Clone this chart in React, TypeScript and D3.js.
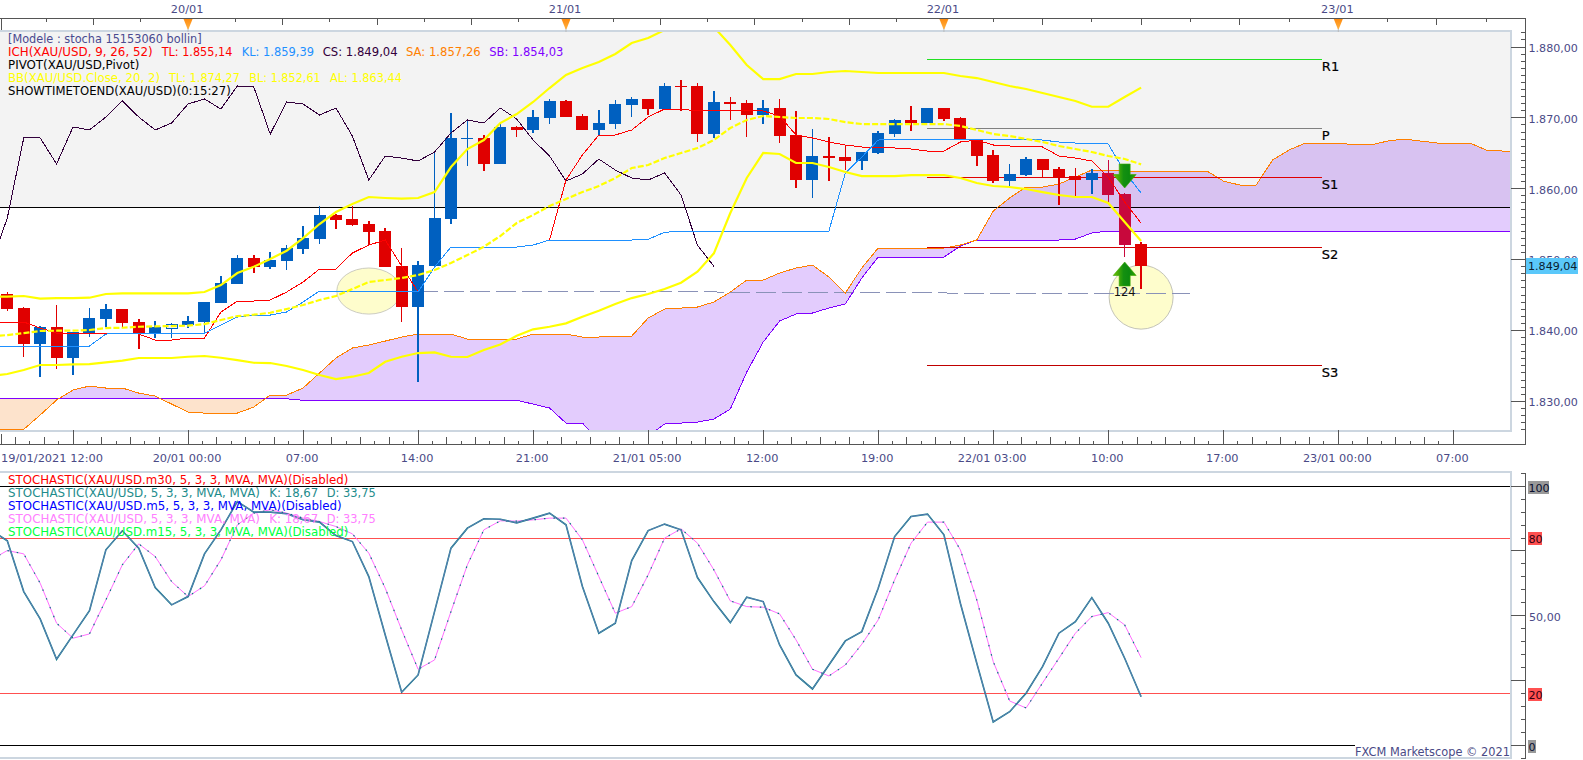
import React from "react";
import * as d3 from "d3";

// Candles (bars 0..69)
const opens = [1845.14,1843.16,1838.08,1840.48,1836.11,1839.63,1841.61,1843.02,1841.19,1839.63,1840.34,1840.76,1841.19,1843.87,1846.55,1850.22,1848.95,1849.80,1851.49,1852.90,1856.29,1855.72,1855.02,1854.03,1849.09,1843.30,1849.09,1855.72,1867.10,1867.16,1863.49,1868.71,1868.29,1869.98,1872.38,1870.26,1868.29,1869.13,1871.81,1872.66,1871.25,1874.50,1874.50,1867.72,1872.24,1872.10,1870.40,1871.39,1867.58,1861.23,1864.62,1864.47,1863.91,1865.04,1867.72,1869.70,1869.27,1871.39,1869.98,1866.87,1864.76,1861.09,1861.93,1864.19,1862.78,1861.79,1861.23,1862.22,1859.25,1852.20];
const highs = [1845.42,1843.30,1840.62,1843.59,1839.78,1843.16,1843.73,1843.02,1841.61,1841.33,1841.05,1842.03,1844.01,1847.68,1850.64,1850.64,1851.07,1852.05,1854.74,1857.56,1856.43,1857.56,1855.44,1854.45,1851.63,1849.80,1865.18,1870.68,1869.70,1867.58,1869.41,1868.85,1871.11,1872.66,1872.52,1870.54,1871.11,1872.52,1872.94,1872.66,1874.92,1875.34,1874.92,1873.79,1872.94,1872.52,1872.52,1872.66,1870.97,1868.43,1867.30,1866.17,1865.18,1868.14,1869.84,1871.67,1871.39,1871.39,1870.12,1866.87,1865.46,1863.49,1864.47,1864.19,1863.06,1862.92,1862.78,1864.05,1859.39,1852.48];
const lows = [1842.74,1836.25,1833.42,1834.55,1833.71,1839.07,1840.48,1840.48,1837.38,1838.93,1838.93,1840.34,1839.78,1843.87,1846.55,1848.10,1848.67,1848.53,1850.78,1852.20,1854.31,1854.74,1852.05,1848.95,1841.19,1832.72,1849.09,1855.02,1863.20,1862.50,1863.49,1867.30,1867.86,1869.13,1870.12,1868.29,1867.44,1868.43,1870.12,1870.40,1871.25,1870.97,1866.59,1867.16,1869.70,1867.30,1869.13,1866.45,1860.10,1858.69,1861.09,1862.64,1862.64,1864.90,1867.30,1868.14,1869.27,1869.56,1866.87,1863.20,1860.80,1860.38,1861.79,1861.51,1857.70,1858.97,1859.25,1858.12,1850.36,1845.84];
const closes = [1843.02,1838.08,1840.48,1836.11,1839.78,1841.75,1843.02,1841.05,1839.63,1840.48,1840.83,1841.33,1844.01,1846.69,1850.22,1848.95,1849.94,1851.63,1853.04,1856.29,1855.58,1854.88,1853.89,1848.95,1843.30,1849.23,1855.87,1867.16,1867.16,1863.49,1868.71,1868.29,1870.12,1872.38,1870.12,1868.29,1869.27,1871.96,1872.66,1871.25,1874.50,1874.36,1867.72,1872.24,1871.96,1870.40,1871.39,1867.44,1861.23,1864.62,1864.33,1863.91,1865.18,1867.86,1869.70,1869.27,1871.39,1869.84,1866.87,1864.62,1861.09,1862.08,1864.19,1862.64,1861.51,1861.23,1862.22,1859.11,1852.05,1849.04];
const crimsonBars = [67, 68];
const hollowBars = [10];

// Line series start at bar -1
const tenkan = [1841.19,1841.19,1841.19,1840.34,1839.63,1839.63,1839.63,1839.63,1839.63,1839.49,1838.65,1838.65,1838.93,1838.93,1842.6,1844.15,1844.15,1844.29,1845.42,1846.83,1848.67,1848.67,1850.93,1852.05,1852.76,1849.09,1845.42,1848.95,1851.77,1851.77,1851.77,1851.77,1851.77,1852.05,1852.76,1861.23,1864.76,1867.58,1867.58,1868.29,1870.12,1871.25,1871.25,1870.97,1870.97,1870.97,1870.97,1870.97,1870.26,1867.58,1867.16,1866.59,1866.17,1865.89,1865.75,1865.75,1865.6,1865.32,1865.32,1866.59,1866.87,1866.17,1866.03,1865.96,1865.89,1864.62,1864.33,1863.91,1861.65,1858.12,1855.14];
const kijun = [1837.8,1837.8,1837.8,1837.8,1837.8,1837.8,1837.8,1839.49,1839.63,1839.63,1839.63,1839.63,1839.63,1839.63,1840.76,1841.89,1842.17,1842.17,1842.6,1844.01,1845.56,1845.56,1845.56,1845.56,1845.56,1845.56,1845.42,1848.95,1851.77,1851.77,1851.77,1851.77,1851.77,1852.05,1852.76,1852.76,1852.76,1852.76,1852.76,1852.76,1852.86,1853.85,1853.99,1853.99,1853.99,1853.99,1853.99,1853.99,1853.99,1853.99,1853.99,1854.03,1862.22,1864.47,1866.87,1866.96,1866.96,1866.96,1866.96,1866.96,1866.96,1866.96,1866.96,1866.96,1866.87,1866.59,1866.45,1866.45,1866.31,1862.36,1859.39];
const senkouA = [1826.08,1826.08,1826.04,1828.06,1830.18,1831.59,1832.15,1831.87,1831.87,1831.16,1830.74,1829.61,1828.48,1828.34,1828.34,1828.34,1829.19,1830.88,1830.88,1831.87,1833.99,1836.11,1837.52,1837.94,1838.50,1839.07,1839.49,1839.49,1839.49,1838.79,1838.79,1838.79,1838.79,1839.49,1839.49,1839.49,1839.07,1839.07,1839.21,1839.21,1841.75,1843.02,1843.16,1843.30,1844.01,1845.42,1847.11,1847.11,1848.10,1848.81,1849.23,1847.54,1845.28,1848.81,1851.63,1851.63,1851.63,1851.63,1851.63,1852.05,1852.76,1856.85,1858.69,1860.24,1860.24,1860.66,1861.65,1862.64,1862.64,1862.50,1862.50,1862.50,1862.50,1862.50,1862.50,1861.09,1860.52,1860.52,1864.05,1865.46,1866.45,1866.45,1866.45,1866.17,1866.17,1866.73,1867.02,1866.73,1866.45,1866.45,1866.45,1865.46,1865.32,1865.32];
const senkouB = [1830.36,1830.36,1830.36,1830.36,1830.36,1830.36,1830.36,1830.36,1830.36,1830.36,1830.36,1830.36,1830.36,1830.36,1830.36,1830.36,1830.36,1830.36,1830.36,1830.14,1830.14,1830.14,1830.14,1830.14,1830.14,1830.14,1830.14,1830.14,1830.14,1830.14,1830.14,1830.14,1830.14,1829.61,1829.05,1826.93,1826.93,1824.53,1824.25,1824.25,1825.10,1826.79,1826.93,1827.07,1827.49,1828.91,1834.13,1838.36,1841.33,1842.32,1842.46,1843.16,1843.73,1847.40,1850.36,1850.36,1850.36,1850.36,1850.36,1851.91,1852.76,1852.76,1852.76,1852.76,1852.76,1852.76,1852.90,1853.75,1854.03,1854.03,1854.03,1854.03,1854.03,1854.03,1854.03,1854.03,1854.03,1854.03,1854.03,1854.03,1854.03,1854.03,1854.03,1854.03,1854.03,1854.03,1854.03,1854.03,1854.03,1854.03,1854.03,1854.03,1854.03,1854.03];
const bbUpper = [1844.76,1844.76,1844.86,1844.48,1844.57,1844.57,1844.62,1845.14,1845.24,1845.24,1845.24,1845.24,1845.24,1845.42,1846.41,1848.10,1848.99,1850.08,1851.25,1853.04,1855.02,1856.71,1857.84,1858.83,1858.69,1858.59,1858.69,1859.53,1863.06,1865.60,1866.87,1869.27,1870.54,1872.24,1874.21,1876.05,1877.04,1877.88,1879.01,1880.56,1881.27,1882.40,1883.81,1884.38,1882.82,1880.28,1877.46,1875.48,1875.48,1876.19,1876.19,1876.47,1876.61,1876.47,1876.33,1876.33,1876.33,1876.33,1876.33,1875.91,1875.62,1875.06,1874.50,1874.07,1873.51,1872.94,1872.38,1871.57,1871.57,1872.94,1874.27];
const bbMiddle = [1839.14,1839.35,1839.63,1839.92,1839.96,1839.96,1840.06,1840.34,1840.38,1840.52,1840.58,1840.62,1840.67,1840.90,1841.47,1842.03,1842.22,1842.50,1843.02,1843.59,1844.29,1844.86,1845.84,1846.83,1847.11,1847.40,1847.82,1848.53,1849.51,1850.64,1851.81,1853.32,1855.16,1856.29,1857.56,1858.55,1859.53,1860.38,1861.51,1862.92,1863.35,1864.33,1865.04,1865.75,1866.87,1868.57,1869.70,1870.26,1870.12,1869.98,1869.98,1869.84,1869.41,1869.13,1869.13,1869.13,1869.13,1869.13,1869.13,1868.85,1868.29,1867.72,1867.44,1867.02,1866.59,1866.03,1865.60,1865.18,1864.62,1864.19,1863.44];
const bbLower = [1833.57,1833.85,1834.41,1835.12,1835.12,1835.22,1835.26,1835.50,1835.73,1836.11,1836.11,1836.11,1836.29,1836.39,1836.15,1835.82,1835.44,1835.40,1834.98,1834.41,1833.71,1833.14,1833.47,1833.99,1835.58,1836.29,1836.81,1836.91,1836.29,1836.25,1837.23,1838.01,1839.25,1840.16,1840.52,1841.00,1841.93,1842.78,1843.73,1844.57,1845.14,1845.84,1846.73,1848.29,1850.88,1856.57,1861.51,1865.04,1864.90,1863.63,1863.63,1863.06,1862.36,1861.79,1861.79,1861.79,1861.93,1861.93,1861.93,1861.51,1860.80,1860.38,1860.24,1859.96,1859.53,1859.11,1858.83,1858.83,1857.98,1855.30,1852.61];
const stochK = [83.17,78.92,59.30,48.74,33.15,42.55,51.95,75.44,82.79,76.09,60.85,54.16,57.37,73.89,83.17,94.12,90.02,90.02,89.36,87.04,86.15,80.97,78.65,65.11,42.55,20.39,27.08,51.57,76.09,83.83,87.43,87.24,85.88,87.70,89.63,85.11,61.24,43.21,47.08,71.30,82.90,85.38,83.17,64.72,55.44,47.31,57.14,55.44,38.69,27.08,21.66,30.95,40.23,43.83,60.62,80.58,88.32,89.25,81.24,54.82,31.61,8.90,12.88,20.00,30.29,43.21,47.70,56.98,47.08,33.54,18.67];
const stochD = [71.57,75.16,73.89,62.55,47.08,41.28,42.94,56.09,69.63,77.76,72.84,63.17,57.37,61.51,71.57,85.11,89.63,90.91,89.63,87.70,86.38,84.45,81.63,74.16,60.62,44.49,29.28,32.88,51.57,69.63,83.17,86.65,86.54,87.04,87.70,87.70,79.30,65.11,50.95,53.50,65.76,79.96,83.56,78.03,67.70,55.71,53.50,53.27,50.68,40.62,29.28,26.69,30.95,38.96,48.36,63.83,78.03,86.15,86.15,75.44,56.09,32.22,17.02,14.31,23.98,33.54,43.21,49.63,51.18,46.42,33.75];

const pivotLevels = [
  { name: "R1", price: 1878.26, color: "#22e022" },
  { name: "P", price: 1868.52, color: "#808080" },
  { name: "S1", price: 1861.6, color: "#e00000" },
  { name: "S2", price: 1851.73, color: "#d00000" },
  { name: "S3", price: 1835.07, color: "#c00000" },
];
const pivotFrom = 56;
const pivotTo = 80;
const closeRef = 1857.35;
const dashedBars = [25, 43, 44, 57, 58, 72];
const dashedPrices = [1845.45, 1845.45, 1845.31, 1845.31, 1845.17, 1845.17];
const circles = [
  { bar: 22, price: 1845.56 },
  { bar: 69, price: 1844.7 },
];

const topDays = ["20/01", "21/01", "22/01", "23/01"];
const topDayBars = [11, 34, 57, 81];
const bottomLabels = ["19/01/2021 12:00", "20/01 00:00", "07:00", "14:00", "21:00", "21/01 05:00", "12:00", "19:00", "22/01 03:00", "10:00", "17:00", "23/01 00:00", "07:00"];
const priceTicks = [1880, 1870, 1860, 1850, 1840, 1830];

const W = 1583, H = 760;
const PR = 1510, AX = 1525.7;
const PT = 32, PB = 431;
const LT = 473, LB = 757;
const INK = "#4a4a86";
const FONT = "'DejaVu Sans', Verdana, sans-serif";

const xBar = d3.scaleLinear().domain([0, 81]).range([7.3, 1338.3]);
const yP = d3.scaleLinear().domain([1880, 1830]).range([47, 401.3]);
const yS = d3.scaleLinear().domain([100, 0]).range([486.3, 745]);

const pts = (a: number[]) => a.map((v, k) => [k - 1, v] as [number, number]);
const priceLine = d3.line<[number, number]>().x((d) => xBar(d[0])).y((d) => yP(d[1]));
const stochLine = d3.line<[number, number]>().x((d) => xBar(d[0])).y((d) => yS(d[1]));
const chikou = closes.slice(25);

const cloudIdx = d3.range(senkouA.length);
const cloudX = (k: number) => xBar(k - 1);
const cloudArea = d3.area<number>().x(cloudX).y0((k) => yP(senkouB[k])).y1((k) => yP(senkouA[k]))(cloudIdx) as string;
const aboveB = d3.area<number>().x(cloudX).y0(0).y1((k) => yP(senkouB[k]))(cloudIdx) as string;
const belowB = d3.area<number>().x(cloudX).y0((k) => yP(senkouB[k])).y1(PB)(cloudIdx) as string;

const tickStep = (xBar(18) - xBar(11)) / 8;

// bottom axis ticks: a tick every 1/8 of a label interval
const bottomTicks = d3.range(-5, 97).map((k) => ({ x: xBar(4) + k * tickStep, k })).filter((t) => t.x >= 1 && t.x <= PR);
// top axis ticks: eight per day segment (bars per day vary with the daily break)
const topTicks: { x: number; major: boolean }[] = [];
const dayBars = [-12, ...topDayBars, 105];
for (let d = 0; d < dayBars.length - 1; d++) {
  for (let q = 0; q < 8; q++) {
    const span = dayBars[d + 1] - dayBars[d];
    const bar = dayBars[d] + (span * q) / 8;
    const x = xBar(bar);
    if (x >= 0 && x <= AX && !(q === 0 && d > 0)) topTicks.push({ x, major: q % 2 === 0 });
  }
}
const segments = (t: string, color: string, x: number, w: number) => ({ t, color, x, w });
const legendTop = [
  [segments("[Modele : stocha 15153060 bollin]", "#4a4a90", 8, 193.7)],
  [
    segments("ICH(XAU/USD, 9, 26, 52)", "#ff0000", 8, 144.7),
    segments("TL: 1.855,14", "#ff0000", 161.7, 70.6),
    segments("KL: 1.859,39", "#1e90ff", 241.7, 72.3),
    segments("CS: 1.849,04", "#32003c", 322.7, 75),
    segments("SA: 1.857,26", "#ff8000", 406, 74.7),
    segments("SB: 1.854,03", "#8000ff", 489.3, 74),
  ],
  [segments("PIVOT(XAU/USD,Pivot)", "#000000", 8, 131.3)],
  [
    segments("BB(XAU/USD.Close, 20, 2)", "#ffff00", 8, 152),
    segments("TL: 1.874,27", "#ffff00", 169, 71),
    segments("BL: 1.852,61", "#ffff00", 249.3, 71.4),
    segments("AL: 1.863,44", "#ffff00", 330, 72),
  ],
  [segments("SHOWTIMETOEND(XAU/USD)(0:15:27)", "#000000", 8, 222.7)],
];
const legendBottom = [
  [segments("STOCHASTIC(XAU/USD.m30, 5, 3, 3, MVA, MVA)(Disabled)", "#ff0000", 8, 340.3)],
  [
    segments("STOCHASTIC(XAU/USD, 5, 3, 3, MVA, MVA)", "#1e8c8c", 8, 252),
    segments("K: 18,67", "#1e8c8c", 269.3, 49),
    segments("D: 33,75", "#1e8c8c", 326.7, 49),
  ],
  [segments("STOCHASTIC(XAU/USD.m5, 5, 3, 3, MVA, MVA)(Disabled)", "#0000ff", 8, 333.7)],
  [
    segments("STOCHASTIC(XAU/USD, 5, 3, 3, MVA, MVA)", "#ff80ff", 8, 252),
    segments("K: 18,67", "#ff80ff", 269.3, 49),
    segments("D: 33,75", "#ff80ff", 326.7, 49),
  ],
  [segments("STOCHASTIC(XAU/USD.m15, 5, 3, 3, MVA, MVA)(Disabled)", "#00ff40", 8, 340.3)],
];

const Legend = ({ rows, y0, dy }: { rows: ReturnType<typeof segments>[][]; y0: number; dy: number }) => (
  <g>
    {rows.flatMap((row, r) =>
      row.map((s, k) => (
        <text key={r + "-" + k} x={s.x} y={y0 + r * dy} fill={s.color} fontSize={12} textLength={s.w} lengthAdjust="spacingAndGlyphs">
          {s.t}
        </text>
      ))
    )}
  </g>
);

const arrowPath = (dir: number) =>
  d3.line()([
    [0, 0],
    [11.5, 13.5 * dir],
    [5.5, 13.5 * dir],
    [5.5, 24 * dir],
    [-5.5, 24 * dir],
    [-5.5, 13.5 * dir],
    [-11.5, 13.5 * dir],
  ]) + "Z";

export default function App() {
  const minorPrice = d3.range(1826, 1883).filter((p) => p % 10 !== 0);
  const stochMinor = d3.range(0, 105, 5);
  const stochMajor = [100, 75, 50, 25, 0];
  return (
    <svg width={W} height={H} viewBox={`0 0 ${W} ${H}`} style={{ position: "absolute", left: 0, top: 0, background: "#fff" }} fontFamily={FONT}>
      <defs>
        <clipPath id="plot"><rect x={0} y={PT} width={PR} height={PB - PT} /></clipPath>
        <clipPath id="lower"><rect x={0} y={LT} width={PR} height={LB - LT} /></clipPath>
        <clipPath id="aboveB"><path d={aboveB} /></clipPath>
        <clipPath id="belowB"><path d={belowB} /></clipPath>
        <linearGradient id="arrowFill" x1="0" x2="1" y1="0" y2="0">
          <stop offset="0" stopColor="#74c400" />
          <stop offset="0.45" stopColor="#149010" />
          <stop offset="0.7" stopColor="#0c8a10" />
          <stop offset="1" stopColor="#3aa800" />
        </linearGradient>
        <linearGradient id="markerFill" x1="0" x2="0" y1="0" y2="1">
          <stop offset="0" stopColor="#ff8c10" />
          <stop offset="1" stopColor="#ffb040" />
        </linearGradient>
      </defs>

      {/* upper plot */}
      <g clipPath="url(#plot)">
        <path d={cloudArea} fill="#e3ccfd" clipPath="url(#aboveB)" />
        <path d={cloudArea} fill="#fde3cc" clipPath="url(#belowB)" />
        <rect x={0} y={PT} width={PR} height={yP(closeRef) - PT} fill="#000" opacity={0.048} />
        {circles.map((c, k) => (
          <circle key={k} cx={xBar(c.bar)} cy={yP(c.price)} r={32} fill="#fefdcc" stroke="#c4c4b8" strokeWidth={1} transform={k === 0 ? `translate(${xBar(c.bar)},${yP(c.price)}) scale(1,0.72) translate(${-xBar(c.bar)},${-yP(c.price)})` : undefined} />
        ))}
        <g shapeRendering="crispEdges" fill="none">
          <line x1={0} x2={PR} y1={yP(closeRef)} y2={yP(closeRef)} stroke="#000" strokeWidth={1} />
          <path d={priceLine(dashedBars.map((b, k) => [b, dashedPrices[k]])) as string} stroke="#8a92b8" strokeWidth={1} strokeDasharray="20 6" />
          <path d={priceLine(pts(senkouB)) as string} stroke="#8000ff" strokeWidth={1} />
          <path d={priceLine(pts(senkouA)) as string} stroke="#ff8000" strokeWidth={1} />
          {pivotLevels.map((l) => (
            <line key={l.name} x1={xBar(pivotFrom)} x2={xBar(pivotTo)} y1={yP(l.price)} y2={yP(l.price)} stroke={l.color} strokeWidth={1} />
          ))}
        </g>
        {/* candles */}
        <g shapeRendering="crispEdges">
          {closes.map((c, i) => {
            const o = opens[i];
            const up = c >= o && !crimsonBars.includes(i);
            const color = crimsonBars.includes(i) ? "#c8083c" : up ? "#0060c0" : "#e00000";
            const top = yP(Math.max(o, c));
            const h = Math.max(1.5, yP(Math.min(o, c)) - top);
            const x = xBar(i);
            return (
              <g key={i}>
                <line x1={x} x2={x} y1={yP(highs[i])} y2={yP(lows[i])} stroke={color} strokeWidth={1.5} />
                {hollowBars.includes(i) ? (
                  <rect x={x - 5.5} y={top} width={11} height={h} fill="#f4f4f4" stroke={color} strokeWidth={1} />
                ) : (
                  <rect x={x - 6} y={top} width={12} height={h} fill={color} />
                )}
              </g>
            );
          })}
        </g>
        <g shapeRendering="crispEdges" fill="none">
          <path d={priceLine(pts(chikou)) as string} stroke="#32003c" strokeWidth={1} />
          <path d={priceLine(pts(tenkan)) as string} stroke="#ff0000" strokeWidth={1} />
          <path d={priceLine(pts(kijun)) as string} stroke="#1e90ff" strokeWidth={1} />
        </g>
        <g fill="none" stroke="#ffff00" strokeWidth={2.2}>
          <path d={priceLine(pts(bbUpper)) as string} />
          <path d={priceLine(pts(bbLower)) as string} />
          <path d={priceLine(pts(bbMiddle)) as string} strokeDasharray="6 2.2" />
        </g>
      </g>

      {/* signal arrows */}
      <g transform={`translate(${xBar(68)},${yP(1860.1)})`}>
        <path d={arrowPath(-1)} fill="url(#arrowFill)" stroke="#3aa800" strokeWidth={0.6} />
      </g>
      <g transform={`translate(${xBar(68)},${yP(1849.66)})`}>
        <path d={arrowPath(1)} fill="url(#arrowFill)" stroke="#3aa800" strokeWidth={0.6} />
      </g>
      <text x={xBar(68)} y={296} textAnchor="middle" fontSize={11.5} fill="#111">124</text>

      {pivotLevels.map((l) => (
        <text key={l.name} x={xBar(pivotTo)} y={yP(l.price) + 11.5} fontSize={13} fill="#000" stroke="#000" strokeWidth={0.2}>{l.name}</text>
      ))}

      <Legend rows={legendTop} y0={43} dy={13} />

      {/* frame */}
      <g fill="none" stroke="#ccd6e0" strokeWidth={2} shapeRendering="crispEdges">
        <path d={`M0,${PT - 1}H${PR + 0.5}V${PB}H0`} />
        <path d={`M0,${LT - 1}H${PR + 0.5}V${LB + 1}H0`} />
      </g>

      {/* top axis */}
      <g stroke="#555" shapeRendering="crispEdges">
        <line x1={0} x2={AX} y1={18.5} y2={18.5} />
        <line x1={1} x2={1} y1={18.5} y2={30} />
        {topTicks.map((t, k) => (
          <line key={k} x1={t.x} x2={t.x} y1={18.5} y2={t.major ? 25 : 22} />
        ))}
      </g>
      {topDays.map((d, k) => (
        <g key={d}>
          <line x1={xBar(topDayBars[k])} x2={xBar(topDayBars[k])} y1={28} y2={32} stroke="#bbb" />
          <path d={d3.line()([[xBar(topDayBars[k]) - 4.5, 19], [xBar(topDayBars[k]) + 4.5, 19], [xBar(topDayBars[k]) + 0.5, 29], [xBar(topDayBars[k]) - 0.5, 29]]) + "Z"} fill="url(#markerFill)" />
          <text x={xBar(topDayBars[k]) - 1} y={13} textAnchor="middle" fontSize={11.3} fill={INK}>{d}</text>
        </g>
      ))}

      {/* bottom axis */}
      <g stroke="#555" shapeRendering="crispEdges">
        <line x1={0} x2={AX} y1={444} y2={444} />
        <line x1={1} x2={1} y1={434} y2={444} />
        {bottomTicks.map((t) => (
          <line key={t.k} x1={t.x} x2={t.x} y1={((t.k % 8) + 8) % 8 === 0 ? 430 : t.k % 2 === 0 ? 437 : 441} y2={444} />
        ))}
      </g>
      {bottomLabels.map((l, k) =>
        k === 0 ? (
          <text key={k} x={1} y={462} fontSize={11.3} fill={INK} textLength={102} lengthAdjust="spacingAndGlyphs">{l}</text>
        ) : (
          <text key={k} x={xBar(4 + 7 * k) - 1} y={462} textAnchor="middle" fontSize={11.3} fill={INK}>{l}</text>
        )
      )}

      {/* right price axis */}
      <g stroke="#555" shapeRendering="crispEdges">
        <line x1={AX} x2={AX} y1={18.5} y2={444} />
        {minorPrice.map((p) => (
          <line key={p} x1={AX - 5} x2={AX} y1={yP(p)} y2={yP(p)} />
        ))}
        {priceTicks.map((p) => (
          <line key={p} x1={PR + 1} x2={AX} y1={yP(p)} y2={yP(p)} />
        ))}
      </g>
      {priceTicks.map((p) => (
        <text key={p} x={1528.5} y={yP(p) + 4.8} fontSize={11.1} fill={INK}>{d3.format(",.2f")(p).replace(",", "#").replace(".", ",").replace("#", ".")}</text>
      ))}
      <rect x={1526} y={258} width={52} height={16} fill="#5ac8fa" />
      <text x={1528} y={270} fontSize={11.1} fill="#0a2030">1.849,04</text>

      {/* lower plot */}
      <g clipPath="url(#lower)">
        <g shapeRendering="crispEdges">
          <line x1={0} x2={PR} y1={yS(100)} y2={yS(100)} stroke="#000" />
          <line x1={0} x2={PR} y1={yS(80)} y2={yS(80)} stroke="#ff5050" />
          <line x1={0} x2={PR} y1={yS(20)} y2={yS(20)} stroke="#ff5050" />
          <line x1={0} x2={1355} y1={yS(0)} y2={yS(0)} stroke="#000" />
        </g>
        <g fill="none">
          <path d={stochLine(pts(stochD)) as string} stroke="#ff70ff" strokeWidth={1} />
          <path d={stochLine(pts(stochD)) as string} stroke="#007a80" strokeWidth={1.2} strokeDasharray="1.5 8" />
          <path d={stochLine(pts(stochK)) as string} stroke="#00787e" strokeWidth={1.6} />
          <path d={stochLine(pts(stochK)) as string} stroke="#c080f0" strokeWidth={0.5} />
        </g>
      </g>
      <Legend rows={legendBottom} y0={484} dy={13} />
      <text x={1355} y={756} fontSize={11.5} fill={INK} textLength={155} lengthAdjust="spacingAndGlyphs">FXCM Marketscope © 2021</text>

      {/* right stochastic axis */}
      <g stroke="#555" shapeRendering="crispEdges">
        <line x1={AX} x2={AX} y1={LT} y2={758} />
        <line x1={AX - 5} x2={AX} y1={LT} y2={LT} />
        <line x1={AX - 5} x2={AX} y1={758} y2={758} />
        {stochMinor.map((s) => (
          <line key={s} x1={stochMajor.includes(s) ? PR + 1 : AX - 5} x2={AX} y1={yS(s)} y2={yS(s)} />
        ))}
      </g>
      <rect x={1528} y={481} width={21} height={13} fill="#999" />
      <text x={1528.5} y={491.5} fontSize={11.1} fill="#0a1030">100</text>
      <rect x={1528} y={532} width={14} height={13} fill="#ff5050" />
      <text x={1528.5} y={542.5} fontSize={11.1} fill="#300010">80</text>
      <text x={1529} y={621} fontSize={11.1} fill={INK}>50,00</text>
      <rect x={1528} y={688} width={14} height={13} fill="#ff5050" />
      <text x={1528.5} y={698.5} fontSize={11.1} fill="#300010">20</text>
      <rect x={1528} y={740} width={8} height={13} fill="#999" />
      <text x={1528.5} y={750.5} fontSize={11.1} fill="#0a1030">0</text>
    </svg>
  );
}
